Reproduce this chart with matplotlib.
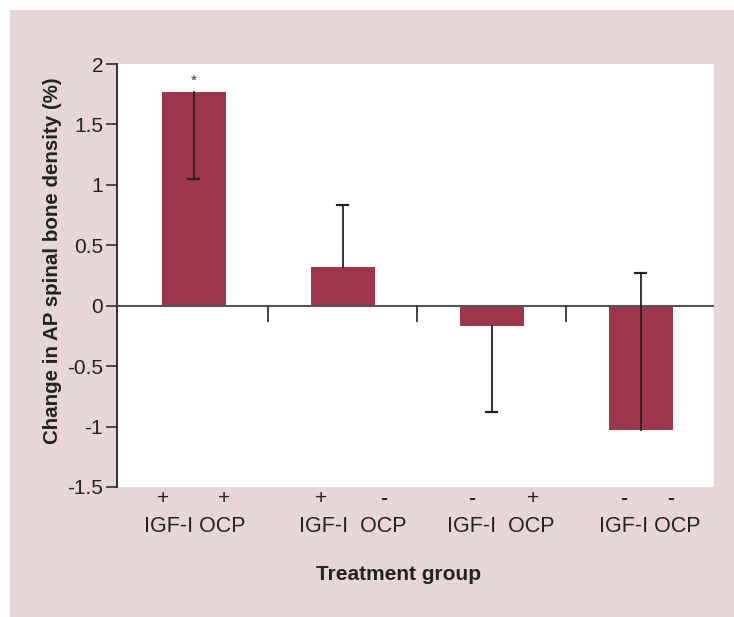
import matplotlib.pyplot as plt
from matplotlib.patches import Rectangle
from matplotlib.ticker import FuncFormatter

# mean change (%) and one-sided error extents per treatment group
groups = ["IGF-I + OCP", "IGF-I only", "OCP only", "neither"]
change = [1.77, 0.32, -0.17, -1.03]
err_low = [0.72, 0.0, 0.71, 0.0]
err_high = [0.0, 0.51, 0.0, 1.30]
igf_sign = ["+", "+", "-", "-"]
ocp_sign = ["+", "-", "+", "-"]
factor_labels = ["IGF-I OCP", "IGF-I  OCP", "IGF-I  OCP", "IGF-I OCP"]
significant = [True, False, False, False]

yticks = [2, 1.5, 1, 0.5, 0, -0.5, -1, -1.5]

PANEL = "#e8d5d5"
BAR = "#9e364b"
INK = "#222222"

plt.rcParams["font.family"] = ["Liberation Sans", "DejaVu Sans"]
plt.rcParams["axes.unicode_minus"] = False

fig = plt.figure(figsize=(7.34, 6.17), dpi=100)
fig.patches.append(
    Rectangle((10 / 734, 0), 1 - 10 / 734, 1 - 10 / 617,
              transform=fig.transFigure, facecolor=PANEL, edgecolor="none", zorder=-5)
)

ax = fig.add_axes([117 / 734, 130 / 617, 597 / 734, 423 / 617])
ax.set_facecolor("white")

x = list(range(len(change)))
ax.bar(x, change, width=0.43, color=BAR, zorder=2)

# error bars run from the bar end, with a cap on the far end only
for xi, m, lo, hi in zip(x, change, err_low, err_high):
    y0, y1 = m - lo, m + hi
    ax.plot([xi, xi], [y0, y1], color=INK, lw=1.3, zorder=4)
    cap = y1 if hi > 0 else y0
    ax.plot([xi - 0.037, xi + 0.037], [cap, cap], color=INK, lw=1.6, zorder=4)

for xi, m, sig in zip(x, change, significant):
    if sig:
        ax.annotate("*", xy=(xi, m), xytext=(0, 4), textcoords="offset pixels",
                    ha="center", va="bottom", fontsize=11, color="#333333")

# zero line and group separators
ax.axhline(0, color="#555555", lw=1.5, zorder=3)
for sep in [0.5, 1.5, 2.5]:
    ax.plot([sep, sep], [0, -0.125], color="#333333", lw=1.3, zorder=3)

ax.set_xlim(-0.516, 3.49)
ax.set_ylim(-1.5, 2)
ax.set_yticks(yticks)
ax.yaxis.set_major_formatter(FuncFormatter(lambda v, _: f"{v:g}"))
ax.tick_params(axis="y", direction="out", length=8, width=1.1, color=INK,
               labelsize=15, pad=2, labelcolor=INK)
ax.set_xticks([])

for side in ["top", "right", "bottom"]:
    ax.spines[side].set_visible(False)
ax.spines["left"].set_color(INK)
ax.spines["left"].set_linewidth(1.3)

# sign row and factor labels under each group (pixel offsets from bar centre)
label_dx = [1, 9.5, 8.5, 9]
sign_igf_dx = [-31, -22, -20, -17]
sign_ocp_dx = [30, 41, 41, 30]
trans = ("data", "axes fraction")
for xi in x:
    for dx, s in [(sign_igf_dx[xi], igf_sign[xi]), (sign_ocp_dx[xi], ocp_sign[xi])]:
        ax.annotate(s, xy=(xi, 0), xycoords=trans, xytext=(dx, -11),
                    textcoords="offset pixels", ha="center", va="center",
                    fontsize=15, color=INK, fontweight="bold" if s == "-" else "normal")
    ax.annotate(factor_labels[xi], xy=(xi, 0), xycoords=trans,
                xytext=(label_dx[xi], -39), textcoords="offset pixels",
                ha="center", va="center", fontsize=15.5, color=INK)

fig.text(399 / 734, 1 - 575 / 617, "Treatment group", ha="center", va="center",
         fontsize=15, fontweight="bold", color=INK)
fig.text(53 / 734, 1 - 261 / 617, "Change in AP spinal bone density (%)",
         ha="center", va="center", rotation=90, fontsize=14.8,
         fontweight="bold", color=INK)

fig.savefig("out.png", dpi=100)
